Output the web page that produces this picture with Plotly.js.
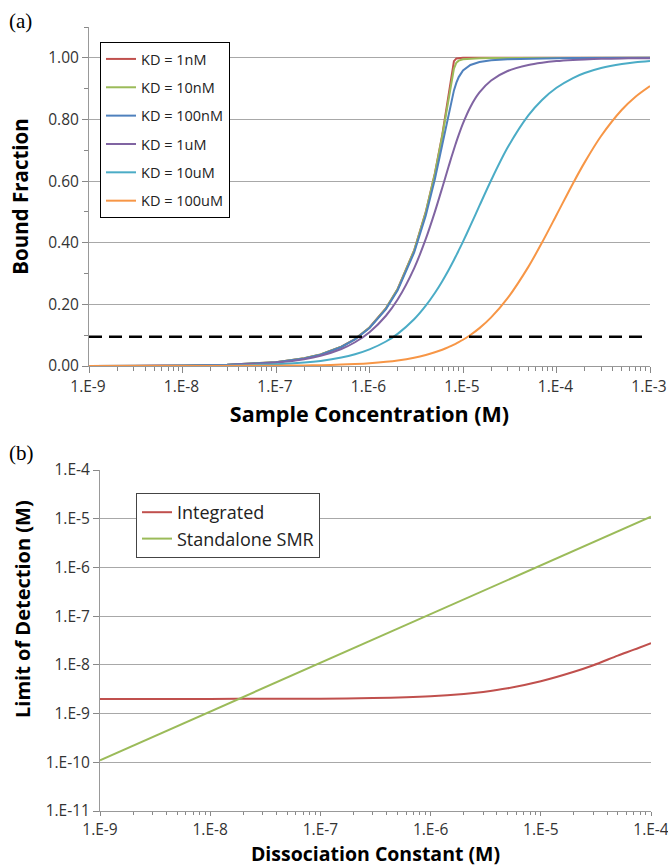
<!DOCTYPE html>
<html>
<head>
<meta charset="utf-8">
<script src="https://cdn.plot.ly/plotly-3.0.1.min.js"></script>
<style>html,body{margin:0;padding:0;background:#fff;}#chart{width:668px;height:868px;}</style>
</head>
<body>
<div id="chart"></div>
<script>
// ---------- Panel (a): bound fraction vs sample concentration ----------
const concM = [1e-9, 3e-9, 1e-8, 3e-8, 1e-7, 2e-7, 3e-7, 5e-7, 7e-7, 1e-6, 1.5e-6, 2e-6, 3e-6, 4e-6, 5e-6, 6e-6, 7e-6, 7.5e-6, 8e-6, 8.5e-6, 9e-6, 1e-5, 1.2e-5, 1.5e-5, 2e-5, 3e-5, 5e-5, 7e-5, 1e-4, 1.5e-4, 2e-4, 3e-4, 5e-4, 7e-4, 1e-3];
const kd1nM   = [0.0001,0.0004,0.0013,0.0038,0.0125,0.025,0.0375,0.0625,0.0875,0.125,0.1875,0.25,0.375,0.5,0.625,0.7496,0.874,0.936,0.989,0.998,0.999,1.0,1.0,1.0,1.0,1.0,1.0,1.0,1.0,1.0,1.0,1.0,1.0,1.0,1.0];
const kd10nM  = [0.0001,0.0004,0.0012,0.0037,0.0125,0.025,0.0374,0.0624,0.0873,0.1248,0.1871,0.2495,0.374,0.4988,0.6229,0.7463,0.8669,0.9226,0.9653,0.9843,0.9908,0.9951,0.9975,0.9986,0.9992,0.9995,0.9998,0.9998,0.9999,1.0,1.0,1.0,1.0,1.0,1.0];
const kd100nM = [0.0001,0.0004,0.0012,0.0037,0.0123,0.0247,0.037,0.0617,0.0864,0.1232,0.1847,0.2459,0.3677,0.4881,0.6058,0.7181,0.8186,0.8604,0.8943,0.9196,0.9375,0.9588,0.9767,0.9861,0.9918,0.9955,0.9976,0.9984,0.9989,0.9993,0.9995,0.9997,0.9998,0.9999,0.9999];
const kd1uM   = [0.0001,0.0003,0.0011,0.0033,0.0111,0.0222,0.0332,0.0552,0.0771,0.1096,0.1631,0.2156,0.317,0.4123,0.5,0.5785,0.6464,0.6763,0.7035,0.728,0.75,0.7873,0.8406,0.8876,0.9264,0.9572,0.9768,0.9842,0.9893,0.993,0.9948,0.9966,0.998,0.9986,0.999];
const kd10uM  = [0.0001,0.0002,0.0006,0.0017,0.0055,0.0111,0.0165,0.0274,0.0381,0.0539,0.0795,0.1044,0.1516,0.1958,0.2369,0.2753,0.3109,0.3278,0.3441,0.3599,0.375,0.4037,0.4553,0.5201,0.6028,0.7087,0.8131,0.8632,0.9027,0.9344,0.9506,0.9669,0.9801,0.9858,0.99];
const kd100uM = [0.0,0.0,0.0001,0.0003,0.0009,0.0019,0.0028,0.0046,0.0065,0.0092,0.0138,0.0182,0.0271,0.0358,0.0444,0.0528,0.0611,0.0653,0.0693,0.0734,0.0773,0.0852,0.1007,0.1229,0.1578,0.2202,0.3217,0.4005,0.49,0.5923,0.6607,0.7462,0.8315,0.8739,0.9085];
const seriesNamesA = ['KD = 1nM','KD = 10nM','KD = 100nM','KD = 1uM','KD = 10uM','KD = 100uM'];
const thresholdX = [1e-9, 8.5e-4];
const thresholdY = [0.095, 0.095];
const ticksA_x = [1e-9,1e-8,1e-7,1e-6,1e-5,1e-4,1e-3];
const tickTextA_x = ['1.E-9','1.E-8','1.E-7','1.E-6','1.E-5','1.E-4','1.E-3'];

// ---------- Panel (b): limit of detection vs dissociation constant ----------
const kdB = [1e-9, 3e-9, 1e-8, 3e-8, 1e-7, 3e-7, 1e-6, 2e-6, 3e-6, 5e-6, 1e-5, 2e-5, 3e-5, 5e-5, 7e-5, 1e-4];
const integrated = [2.0e-9, 2.0e-9, 2.003e-9, 2.008e-9, 2.026e-9, 2.078e-9, 2.26e-9, 2.52e-9, 2.78e-9, 3.3e-9, 4.6e-9, 7.2e-9, 9.8e-9, 1.55e-8, 2.05e-8, 2.8e-8];
const kdS = [1e-9, 1e-8, 1e-7, 1e-6, 1e-5, 1e-4];
const standalone = [1.1e-10, 1.1e-9, 1.1e-8, 1.1e-7, 1.1e-6, 1.1e-5];
const seriesNamesB = ['Integrated','Standalone SMR'];
const ticksB_x = [1e-9,1e-8,1e-7,1e-6,1e-5,1e-4];
const tickTextB_x = ['1.E-9','1.E-8','1.E-7','1.E-6','1.E-5','1.E-4'];
const ticksB_y = [1e-11,1e-10,1e-9,1e-8,1e-7,1e-6,1e-5,1e-4];
const tickTextB_y = ['1.E-11','1.E-10','1.E-9','1.E-8','1.E-7','1.E-6','1.E-5','1.E-4'];

const colorsA = ['#C0504D','#9BBB59','#4F81BD','#8064A2','#4BACC6','#F79646'];
const colorsB = ['#C0504D','#9BBB59'];
const FONT = '"Open Sans", Lato, sans-serif';
const SERIF = '"Liberation Serif", "DejaVu Serif", serif';
const W = 668, H = 868;
const fx = p => p / W, fy = p => 1 - p / H;

const seriesA = [kd1nM, kd10nM, kd100nM, kd1uM, kd10uM, kd100uM];
const smoothA = [false, false, false, true, true, true];
const traces = [];
seriesA.forEach((ys, i) => {
  traces.push({
    x: concM, y: ys, type: 'scatter', mode: 'lines', name: seriesNamesA[i],
    line: smoothA[i] ? {color: colorsA[i], width: 2, shape: 'spline', smoothing: 0.8}
                     : {color: colorsA[i], width: 2},
    xaxis: 'x', yaxis: 'y',
    legend: 'legend', legendgroup: 'a' + i
  });
});
traces.push({
  x: thresholdX, y: thresholdY, type: 'scatter', mode: 'lines', showlegend: false,
  line: {color: '#000', width: 2.5, dash: '13px,7px'}, xaxis: 'x', yaxis: 'y'
});
traces.push({
  x: kdB, y: integrated, type: 'scatter', mode: 'lines', name: seriesNamesB[0],
  line: {color: colorsB[0], width: 2, shape: 'spline', smoothing: 0.8}, xaxis: 'x2', yaxis: 'y2',
  legend: 'legend2', legendgroup: 'b0'
});
traces.push({
  x: kdS, y: standalone, type: 'scatter', mode: 'lines', name: seriesNamesB[1],
  line: {color: colorsB[1], width: 2}, xaxis: 'x2', yaxis: 'y2',
  legend: 'legend2', legendgroup: 'b1'
});

const tickFont = {family: FONT, size: 15.5, color: '#333'};
const minorLog = {ticks: 'outside', ticklen: 3, tickcolor: '#888', dtick: 'D1', showgrid: false};

const layout = {
  width: W, height: H,
  margin: {l: 0, r: 0, t: 0, b: 0},
  paper_bgcolor: '#fff', plot_bgcolor: '#fff',
  showlegend: true,
  xaxis: {
    type: 'log', range: [-9, -3], domain: [fx(89), fx(650)], anchor: 'y',
    tickmode: 'array', tickvals: ticksA_x, ticktext: tickTextA_x,
    ticks: 'outside', ticklen: 6, tickcolor: '#888', tickfont: tickFont,
    ticklabeloverflow: 'allow', ticklabelshift: -1,
    showline: true, linecolor: '#999', linewidth: 1, showgrid: false, zeroline: false,
    minor: {ticks: 'outside', ticklen: 4, tickcolor: '#888', dtick: 'D1', showgrid: false},
    title: {text: '<b>Sample Concentration (M)</b>', font: {family: FONT, size: 21.5, color: '#000'}, standoff: 11}
  },
  yaxis: {
    range: [0, 1.1], domain: [fy(366), fy(27)], anchor: 'x',
    tickmode: 'linear', tick0: 0, dtick: 0.2, tickformat: '.2f',
    ticks: 'outside', ticklen: 6, tickcolor: '#888', tickfont: tickFont,
    showline: true, linecolor: '#999', linewidth: 1,
    showgrid: true, gridcolor: '#a8a8a8', gridwidth: 1, zeroline: false,
    minor: {ticks: 'outside', ticklen: 4, tickcolor: '#888', dtick: 0.1, showgrid: false},
    title: {text: '<b>Bound Fraction</b>', font: {family: FONT, size: 20.5, color: '#000'}, standoff: 14}
  },
  xaxis2: {
    type: 'log', range: [-9, -4], domain: [fx(100), fx(651)], anchor: 'y2',
    tickmode: 'array', tickvals: ticksB_x, ticktext: tickTextB_x,
    ticks: 'outside', ticklen: 4, tickcolor: '#888', tickfont: tickFont,
    ticklabeloverflow: 'allow',
    showline: true, linecolor: '#999', linewidth: 1, showgrid: false, zeroline: false,
    minor: minorLog,
    title: {text: '<b>Dissociation Constant (M)</b>', font: {family: FONT, size: 19.5, color: '#000'}, standoff: 4}
  },
  yaxis2: {
    type: 'log', range: [-11, -4], domain: [fy(811), fy(470)], anchor: 'x2',
    tickmode: 'array', tickvals: ticksB_y, ticktext: tickTextB_y,
    ticks: 'outside', ticklen: 6, tickcolor: '#888', tickfont: tickFont,
    showline: true, linecolor: '#999', linewidth: 1,
    showgrid: true, gridcolor: '#a8a8a8', gridwidth: 1, zeroline: false
  },
  legend: {
    x: fx(100), y: fy(42), xanchor: 'left', yanchor: 'top',
    bgcolor: '#fff', bordercolor: '#000', borderwidth: 1,
    font: {family: FONT, size: 14.5, color: '#222'},
    traceorder: 'grouped', tracegroupgap: 6.5, itemwidth: 30
  },
  legend2: {
    x: fx(136), y: fy(493), xanchor: 'left', yanchor: 'top',
    bgcolor: '#fff', bordercolor: '#444', borderwidth: 1,
    font: {family: FONT, size: 18, color: '#222'},
    traceorder: 'grouped', tracegroupgap: 0, itemwidth: 30
  },
  annotations: [
    {text: '(a)', x: fx(7), y: fy(7), xref: 'paper', yref: 'paper', xanchor: 'left', yanchor: 'top',
     showarrow: false, font: {family: SERIF, size: 21, color: '#000'}},
    {text: '(b)', x: fx(7), y: fy(439), xref: 'paper', yref: 'paper', xanchor: 'left', yanchor: 'top',
     showarrow: false, font: {family: SERIF, size: 21, color: '#000'}},
    {text: '<b>Limit of Detection (M)</b>', x: fx(22), y: fy(609), xref: 'paper', yref: 'paper',
     xanchor: 'center', yanchor: 'middle', textangle: -90, showarrow: false,
     font: {family: FONT, size: 20, color: '#000'}}
  ]
};

Plotly.newPlot('chart', traces, layout, {displayModeBar: false, staticPlot: true});
</script>
</body>
</html>
